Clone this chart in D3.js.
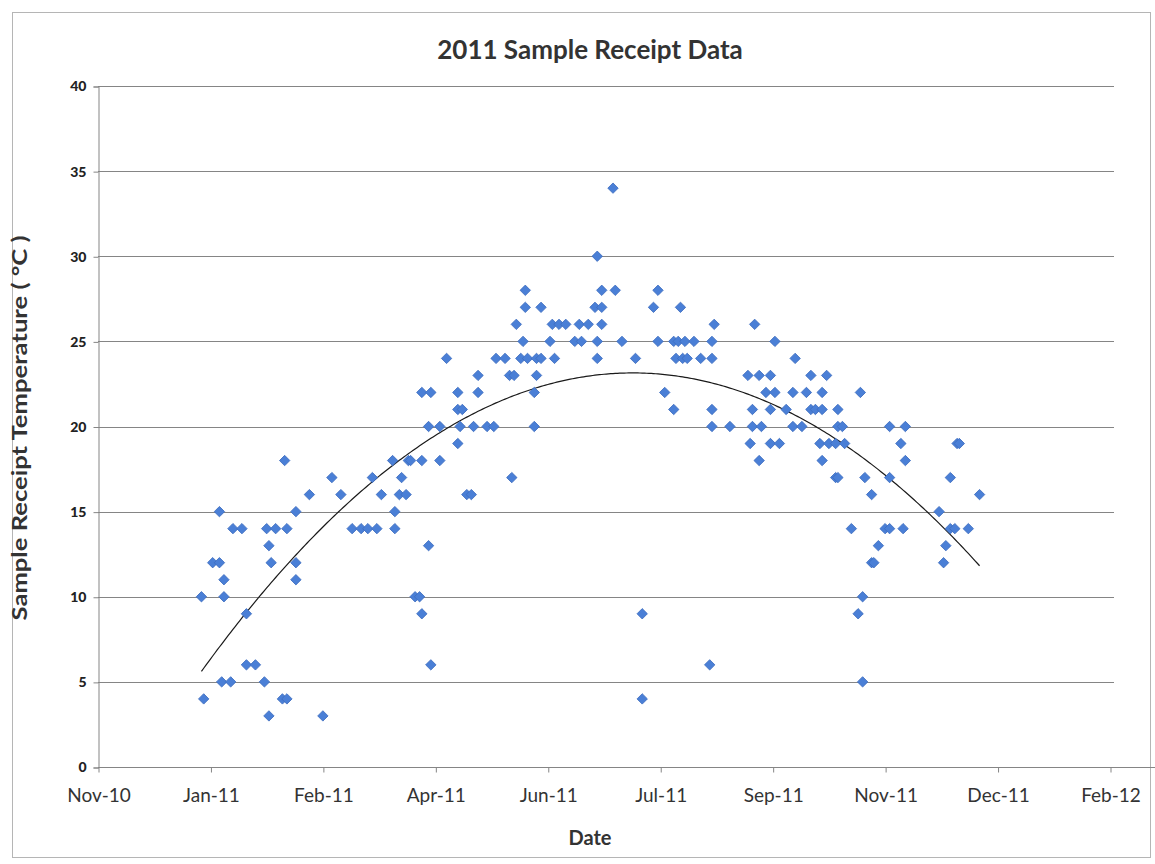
<!DOCTYPE html>
<html>
<head>
<meta charset="utf-8">
<script src="https://cdn.jsdelivr.net/npm/d3@7"></script>
<style>
  html, body { margin: 0; padding: 0; background: #fff; }
  svg { display: block; }
</style>
</head>
<body>
<svg id="chart" width="1155" height="864"></svg>
<script>
// ---- data ----
const dates = [
  "2011-01-03","2011-01-04","2011-01-08","2011-01-11","2011-01-11","2011-01-12","2011-01-13","2011-01-13","2011-01-16","2011-01-17",
  "2011-01-21","2011-01-23","2011-01-23","2011-01-27","2011-01-31","2011-02-01","2011-02-02","2011-02-02","2011-02-03","2011-02-05",
  "2011-02-08","2011-02-09","2011-02-10","2011-02-10","2011-02-14","2011-02-14","2011-02-14","2011-02-20","2011-02-26","2011-03-02",
  "2011-03-06","2011-03-11","2011-03-15","2011-03-18","2011-03-20","2011-03-22","2011-03-24","2011-03-29","2011-03-30","2011-03-30",
  "2011-04-01","2011-04-02","2011-04-04","2011-04-05","2011-04-06","2011-04-08","2011-04-10","2011-04-11","2011-04-11","2011-04-11",
  "2011-04-14","2011-04-14","2011-04-15","2011-04-15","2011-04-19","2011-04-19","2011-04-22","2011-04-27","2011-04-27","2011-04-27",
  "2011-04-28","2011-04-29","2011-05-01","2011-05-03","2011-05-04","2011-05-06","2011-05-06","2011-05-10","2011-05-13","2011-05-14",
  "2011-05-18","2011-05-20","2011-05-21","2011-05-22","2011-05-23","2011-05-25","2011-05-26","2011-05-27","2011-05-27","2011-05-28",
  "2011-05-31","2011-05-31","2011-06-01","2011-06-01","2011-06-03","2011-06-03","2011-06-07","2011-06-08","2011-06-09","2011-06-11",
  "2011-06-14","2011-06-18","2011-06-20","2011-06-21","2011-06-24","2011-06-27","2011-06-28","2011-06-28","2011-06-28","2011-06-30",
  "2011-06-30","2011-06-30","2011-07-05","2011-07-06","2011-07-09","2011-07-15","2011-07-18","2011-07-18","2011-07-23","2011-07-25",
  "2011-07-25","2011-07-28","2011-08-01","2011-08-01","2011-08-02","2011-08-03","2011-08-04","2011-08-05","2011-08-06","2011-08-07",
  "2011-08-10","2011-08-13","2011-08-17","2011-08-18","2011-08-18","2011-08-18","2011-08-18","2011-08-19","2011-08-26","2011-09-03",
  "2011-09-04","2011-09-05","2011-09-05","2011-09-06","2011-09-08","2011-09-08","2011-09-09","2011-09-11","2011-09-13","2011-09-13",
  "2011-09-13","2011-09-15","2011-09-15","2011-09-17","2011-09-20","2011-09-23","2011-09-23","2011-09-24","2011-09-27","2011-09-29",
  "2011-10-01","2011-10-01","2011-10-03","2011-10-05","2011-10-06","2011-10-06","2011-10-06","2011-10-08","2011-10-09","2011-10-12",
  "2011-10-12","2011-10-13","2011-10-13","2011-10-13","2011-10-15","2011-10-16","2011-10-19","2011-10-22","2011-10-23","2011-10-24",
  "2011-10-24","2011-10-25","2011-10-28","2011-10-28","2011-10-29","2011-10-31","2011-11-03","2011-11-05","2011-11-05","2011-11-05",
  "2011-11-10","2011-11-11","2011-11-12","2011-11-12","2011-11-27","2011-11-29","2011-11-30","2011-12-02","2011-12-02","2011-12-04",
  "2011-12-05","2011-12-06","2011-12-10","2011-12-15"
];
const temps = [
  10,4,12,12,15,5,10,11,5,14,
  14,9,6,6,5,14,13,3,12,14,
  4,18,14,4,15,11,12,16,3,17,
  16,14,14,14,17,14,16,18,15,14,
  16,17,16,18,18,10,10,9,18,22,
  13,20,22,6,20,18,24,22,21,19,
  20,21,16,16,20,22,23,20,20,24,
  24,23,17,23,26,24,25,28,27,24,
  22,20,24,23,24,27,25,26,24,26,
  26,25,26,25,26,27,30,25,24,26,
  27,28,34,28,25,24,9,4,27,28,
  25,22,21,25,24,25,27,24,25,24,
  25,24,6,25,24,21,20,26,20,23,
  19,21,20,26,23,18,20,22,23,21,
  19,22,25,19,21,22,20,24,20,22,
  23,21,21,19,22,21,18,23,19,17,
  19,21,20,17,20,19,14,9,22,5,
  10,17,16,12,12,13,14,14,17,20,
  19,14,20,18,15,12,13,17,14,14,
  19,19,14,16
];
const xTickDates = ["2010-11-18","2011-01-07","2011-02-26","2011-04-17","2011-06-06","2011-07-26","2011-09-14","2011-11-03","2011-12-23","2012-02-11"];
const xTickLabels = ["Nov-10","Jan-11","Feb-11","Apr-11","Jun-11","Jul-11","Sep-11","Nov-11","Dec-11","Feb-12"];
const yTicks = [0,5,10,15,20,25,30,35,40];

const titleText = "2011 Sample Receipt Data";
const xTitle = "Date";
const yTitle = "Sample Receipt Temperature ( \u00B0C )";

// ---- drawing ----
const parse = d3.utcParse("%Y-%m-%d");
const points = dates.map((d, i) => ({ date: parse(d), v: temps[i] }));
const tickDates = xTickDates.map(parse);

const svg = d3.select("#chart");
const font = "Lato, 'Open Sans', sans-serif";

// outer frame
svg.append("rect").attr("x", 12.5).attr("y", 12.5).attr("width", 1138).attr("height", 845)
  .attr("fill", "#fff").attr("stroke", "#b5b5b5").attr("stroke-width", 1);

const x = d3.scaleUtc().domain([tickDates[0], tickDates[tickDates.length - 1]]).range([98, 1110]);
const y = d3.scaleLinear().domain([0, 40]).range([767, 86]);
const plotRight = 1114;

// gridlines
svg.append("g").selectAll("line").data(yTicks.filter(t => t > 0)).join("line")
  .attr("x1", 98).attr("x2", plotRight)
  .attr("y1", d => Math.round(y(d)) + 0.5).attr("y2", d => Math.round(y(d)) + 0.5)
  .attr("stroke", "#858585").attr("stroke-width", 1);

// y axis
const yAxis = d3.axisLeft(y).tickValues(yTicks).tickSize(5).tickPadding(7).tickFormat(d3.format("d"));
const gy = svg.append("g").attr("transform", "translate(98.5,0.5)").call(yAxis);
gy.select(".domain").attr("stroke", "#858585");
gy.selectAll(".tick line").attr("stroke", "#858585");
gy.selectAll(".tick text").attr("font-family", font).attr("font-weight", "900")
  .attr("font-size", 14).attr("fill", "#222");

// x axis
const xAxis = d3.axisBottom(x).tickValues(tickDates).tickSize(5).tickPadding(16)
  .tickFormat((d, i) => xTickLabels[i]);
const gx = svg.append("g").attr("transform", "translate(0.5," + (767.5) + ")").call(xAxis);
gx.select(".domain").attr("stroke", "#858585").attr("d", "M0.5,0H" + (plotRight - 0.5)).attr("transform", "translate(97,0)");
gx.selectAll(".tick line").attr("stroke", "#858585");
gx.selectAll(".tick text").attr("font-family", font).attr("font-size", 19).attr("fill", "#333");

// trendline: 2nd order polynomial least squares fit
const t0 = points[0].date.getTime();
const day = 86400000;
const ts = points.map(p => (p.date.getTime() - t0) / day);
function fitQuadratic(xs, ys) {
  let S = [0,0,0,0,0], T = [0,0,0];
  xs.forEach((xv, i) => {
    let p = 1;
    for (let k = 0; k < 5; k++) { S[k] += p; if (k < 3) T[k] += p * ys[i]; p *= xv; }
  });
  const A = [[S[0],S[1],S[2],T[0]],[S[1],S[2],S[3],T[1]],[S[2],S[3],S[4],T[2]]];
  for (let i = 0; i < 3; i++) {
    for (let j = i + 1; j < 3; j++) {
      const f = A[j][i] / A[i][i];
      for (let k = i; k < 4; k++) A[j][k] -= f * A[i][k];
    }
  }
  const c = [0,0,0];
  for (let i = 2; i >= 0; i--) {
    let s = A[i][3];
    for (let k = i + 1; k < 3; k++) s -= A[i][k] * c[k];
    c[i] = s / A[i][i];
  }
  return c;
}
const coef = fitQuadratic(ts, temps);
const tMax = d3.max(ts);
const trend = d3.range(0, tMax + 0.5, 1).map(t => ({ date: new Date(t0 + t * day), v: coef[0] + coef[1] * t + coef[2] * t * t }));
svg.append("path").datum(trend)
  .attr("d", d3.line().x(d => x(d.date)).y(d => y(d.v)))
  .attr("fill", "none").attr("stroke", "#1a1a1a").attr("stroke-width", 1.2);

// markers (diamonds)
const sym = d3.symbol().type(d3.symbolSquare).size(54);
svg.append("g").selectAll("path").data(points).join("path")
  .attr("d", sym)
  .attr("transform", d => `translate(${x(d.date)},${y(d.v)}) rotate(45)`)
  .attr("fill", "#4a7fd6").attr("stroke", "#3d6dbf").attr("stroke-width", 0.8);

// titles
svg.append("text").attr("x", 590).attr("y", 59).attr("text-anchor", "middle")
  .attr("font-family", font).attr("font-weight", "bold").attr("font-size", 26).attr("fill", "#333")
  .text(titleText);
svg.append("text").attr("x", 590).attr("y", 845).attr("text-anchor", "middle")
  .attr("font-family", font).attr("font-weight", "bold").attr("font-size", 20).attr("fill", "#333")
  .text(xTitle);
svg.append("text").attr("transform", "translate(27,428) rotate(-90)").attr("text-anchor", "middle")
  .attr("font-family", font).attr("font-weight", "bold").attr("font-size", 21).attr("fill", "#333")
  .attr("textLength", 385).attr("lengthAdjust", "spacingAndGlyphs")
  .text(yTitle);
</script>
</body>
</html>
